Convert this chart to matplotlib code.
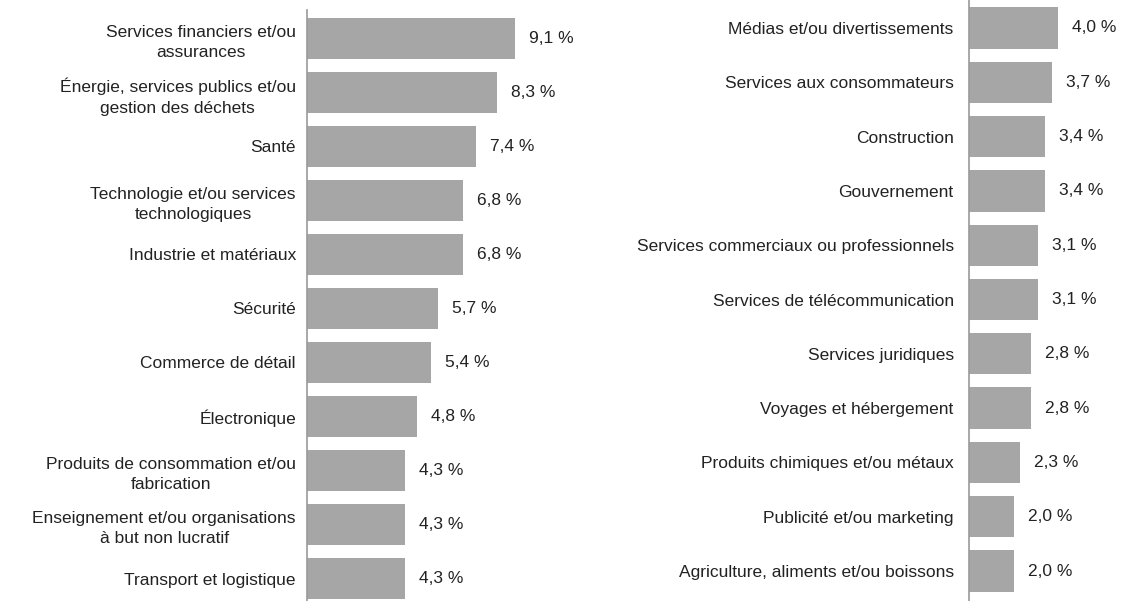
import matplotlib
matplotlib.use("Agg")
import matplotlib.pyplot as plt

left_categories = [
    "Services financiers et/ou\nassurances",
    "Énergie, services publics et/ou\ngestion des déchets",
    "Santé",
    "Technologie et/ou services\ntechnologiques",
    "Industrie et matériaux",
    "Sécurité",
    "Commerce de détail",
    "Électronique",
    "Produits de consommation et/ou\nfabrication",
    "Enseignement et/ou organisations\nà but non lucratif",
    "Transport et logistique",
]
left_values = [9.1, 8.3, 7.4, 6.8, 6.8, 5.7, 5.4, 4.8, 4.3, 4.3, 4.3]

right_categories = [
    "Médias et/ou divertissements",
    "Services aux consommateurs",
    "Construction",
    "Gouvernement",
    "Services commerciaux ou professionnels",
    "Services de télécommunication",
    "Services juridiques",
    "Voyages et hébergement",
    "Produits chimiques et/ou métaux",
    "Publicité et/ou marketing",
    "Agriculture, aliments et/ou boissons",
]
right_values = [4.0, 3.7, 3.4, 3.4, 3.1, 3.1, 2.8, 2.8, 2.3, 2.0, 2.0]

plt.rcParams['font.family'] = ['Liberation Sans', 'DejaVu Sans']

W, H = 1121, 601
fig = plt.figure(figsize=(W / 100, H / 100), dpi=100)

BAR_COLOR = "#a6a6a6"
AXIS_COLOR = "#9a9a9a"
TEXT_COLOR = "#222222"
FS = 12.5


def panel(cats, vals, x0, ytop, ybottom, c0, pitch, xscale, xmax, lab_pad):
    ax = fig.add_axes([x0 / W, 1 - ybottom / H, xmax * xscale / W, (ybottom - ytop) / H])
    n = len(cats)
    pos = list(range(n))
    ax.barh(pos, vals, height=0.76, color=BAR_COLOR, zorder=2)
    ax.set_xlim(0, xmax)
    ylo = (ytop - c0) / pitch
    yhi = (ybottom - c0) / pitch
    ax.set_ylim(yhi, ylo)
    for s in ["top", "right", "bottom"]:
        ax.spines[s].set_visible(False)
    ax.spines["left"].set_color(AXIS_COLOR)
    ax.spines["left"].set_linewidth(1.2)
    ax.set_xticks([])
    ax.set_yticks(pos)
    labels = ax.set_yticklabels(cats, fontsize=FS, color=TEXT_COLOR, linespacing=1.45)
    for t in labels:
        t.set_multialignment("center")
    ax.tick_params(axis="y", length=0, pad=lab_pad)
    for p, v in zip(pos, vals):
        ax.text(v + 14 / xscale, p, f"{v:.1f} %".replace(".", ","), va="center", ha="left",
                fontsize=FS, color=TEXT_COLOR)
    ax.patch.set_visible(False)
    return ax


panel(left_categories, left_values, 307, 10, 601, 38.5, 54.0, 22.9, 10, 8)
panel(right_categories, right_values, 969, 0, 601, 28.0, 54.3, 22.3, 6, 11)

fig.savefig("out.png", dpi=100)
